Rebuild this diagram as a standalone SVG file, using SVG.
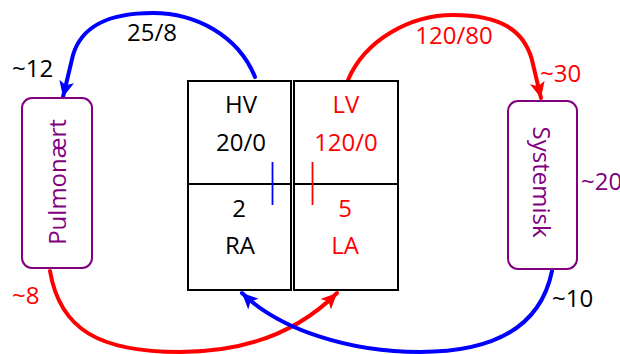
<svg xmlns="http://www.w3.org/2000/svg" width="620" height="354" viewBox="0 0 620 354">
<style>
text{font-family:"Open Sans","Liberation Sans",sans-serif;font-size:24px}
.c{text-anchor:middle}
.k{fill:#000}
.r{fill:#ff0000}
.p{fill:#800080}
.box{fill:#fff;stroke:#000;stroke-width:2}
.vessel{fill:#fff;stroke:#800080;stroke-width:2}
.bl{fill:none;stroke:#0000ff;stroke-width:4;stroke-linecap:round}
.rd{fill:none;stroke:#ff0000;stroke-width:4;stroke-linecap:round}
</style>
<defs>
<marker id="ab" markerUnits="userSpaceOnUse" markerWidth="20" markerHeight="20" viewBox="-18 -10 20 20" refX="0" refY="0" orient="auto">
<path d="M0,0 L-16,-7.5 L-12,0 L-16,7.5 Z" fill="#0000ff"/>
</marker>
<marker id="ar" markerUnits="userSpaceOnUse" markerWidth="20" markerHeight="20" viewBox="-18 -10 20 20" refX="0" refY="0" orient="auto">
<path d="M0,0 L-16,-7.5 L-12,0 L-16,7.5 Z" fill="#ff0000"/>
</marker>
</defs>
<g id="connectors">
<path class="bl" d="M255,77 C238,35 195,13 153,13 C110,13 82,25 73,55 L63,97" marker-end="url(#ab)"/>
<path class="rd" d="M348,80 C365,40 410,15 453,15 C500,15 524,30 532,60 L541,98" marker-end="url(#ar)"/>
<path class="rd" d="M50,271 C60,330 100,352 180,352 C250,352 300,330 337,293" marker-end="url(#ar)"/>
<path class="bl" d="M552,271 C540,330 490,352 420,352 C350,352 280,330 242,293" marker-end="url(#ab)"/>
</g>
<g id="HV">
<rect class="box" x="188" y="81" width="103" height="104"/>
<text class="c k" x="241" y="113">HV</text>
<text class="c k" x="241" y="151">20/0</text>
</g>
<g id="LV">
<rect class="box" x="294" y="81" width="104" height="104"/>
<text class="c r" x="346" y="113">LV</text>
<text class="c r" x="346" y="151">120/0</text>
</g>
<g id="RA">
<rect class="box" x="188" y="184" width="103" height="106"/>
<text class="c k" x="239" y="217">2</text>
<text class="c k" x="240" y="254">RA</text>
</g>
<g id="LA">
<rect class="box" x="294" y="184" width="104" height="106"/>
<text class="c r" x="345" y="217">5</text>
<text class="c r" x="345" y="254">LA</text>
</g>
<g id="valves">
<line x1="272.5" y1="162" x2="272.5" y2="205" stroke="#0000ff" stroke-width="1.8"/>
<line x1="312.5" y1="162" x2="312.5" y2="205" stroke="#ff0000" stroke-width="1.8"/>
</g>
<g id="Pulmonaert">
<rect class="vessel" x="22" y="98" width="70" height="170" rx="10"/>
<text class="c p" transform="translate(66,182) rotate(-90)">Pulmonært</text>
</g>
<g id="Systemisk">
<rect class="vessel" x="508" y="101" width="69" height="168" rx="10"/>
<text class="c p" transform="translate(533,182) rotate(90)">Systemisk</text>
</g>
<g id="labels">
<text class="c k" x="152" y="41">25/8</text>
<text class="k" x="12" y="77">~12</text>
<text class="c r" x="454" y="44">120/80</text>
<text class="r" x="540" y="82">~30</text>
<text class="p" x="581" y="190">~20</text>
<text class="r" x="12" y="304">~8</text>
<text class="k" x="552" y="307">~10</text>
</g>
</svg>
